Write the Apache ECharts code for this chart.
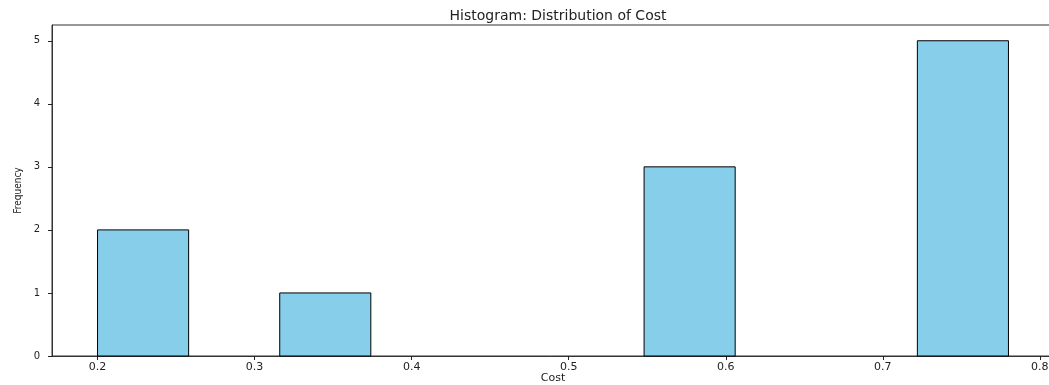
<!DOCTYPE html>
<html>
<head>
<meta charset="utf-8">
<script src="https://cdn.jsdelivr.net/npm/echarts@6/dist/echarts.min.js"></script>
<style>
  html, body { margin: 0; padding: 0; background: #fff; }
  #chart { width: 1049px; height: 385px; }
</style>
</head>
<body>
<div id="chart"></div>
<script>
// Histogram bin edges (10 bins between min and max of Cost)
const binEdges = [0.2, 0.258, 0.316, 0.374, 0.432, 0.49, 0.548, 0.606, 0.664, 0.722, 0.78];
// Frequency in each bin
const counts = [2, 0, 1, 0, 0, 0, 3, 0, 0, 5];
// Tick labels
const xTicks = [0.2, 0.3, 0.4, 0.5, 0.6, 0.7, 0.8];
const yTicks = [0, 1, 2, 3, 4, 5];

const barData = [];
for (let i = 0; i < counts.length; i++) {
  if (counts[i] > 0) barData.push([binEdges[i], binEdges[i + 1], counts[i]]);
}

const textColor = '#222';
const font = 'DejaVu Sans';

const chart = echarts.init(document.getElementById('chart'), null, { renderer: 'canvas' });
chart.setOption({
  animation: false,
  backgroundColor: '#fff',
  title: {
    text: 'Histogram: Distribution of Cost',
    left: 553,
    textAlign: 'center',
    top: 4,
    textStyle: { fontFamily: font, fontSize: 14, fontWeight: 'normal', color: textColor }
  },
  grid: {
    left: 52, right: -5, top: 25, bottom: 29,
    outerBoundsMode: 'none',
    containLabel: false,
    show: true, borderColor: '#333', borderWidth: 1, backgroundColor: 'transparent'
  },
  xAxis: {
    type: 'value',
    min: 0.171, max: 0.809,
    name: 'Cost',
    nameLocation: 'middle',
    nameGap: 17,
    nameMoveOverlap: false,
    nameTextStyle: { fontFamily: font, fontSize: 11, color: textColor },
    axisLine: { show: true, onZero: false, lineStyle: { color: '#333', width: 1 } },
    axisTick: { show: true, length: 4, customValues: xTicks, lineStyle: { color: '#222' } },
    axisLabel: {
      customValues: xTicks, margin: 6,
      fontFamily: font, fontSize: 11, color: textColor,
      formatter: v => v.toFixed(1)
    },
    splitLine: { show: false }
  },
  yAxis: {
    type: 'value',
    min: 0, max: 5.25,
    name: 'Frequency',
    nameLocation: 'middle',
    nameRotate: 90,
    nameGap: 29,
    nameMoveOverlap: false,
    nameTextStyle: { fontFamily: 'DejaVu Sans Condensed', fontSize: 10, color: textColor },
    axisLine: { show: true, lineStyle: { color: '#333', width: 1 } },
    axisTick: { show: true, length: 4, customValues: yTicks, lineStyle: { color: '#222' } },
    axisLabel: {
      customValues: yTicks, margin: 12,
      fontFamily: font, fontSize: 10, color: textColor
    },
    splitLine: { show: false }
  },
  series: [{
    type: 'custom',
    data: barData,
    encode: { x: [0, 1], y: 2 },
    renderItem: function (params, api) {
      const x0 = api.value(0), x1 = api.value(1), c = api.value(2);
      const pTop = api.coord([x0, c]);
      const pBot = api.coord([x1, 0]);
      return {
        type: 'rect',
        shape: { x: pTop[0], y: pTop[1], width: pBot[0] - pTop[0], height: pBot[1] - pTop[1] },
        style: { fill: '#87CEEB', stroke: '#000', lineWidth: 1 }
      };
    }
  }]
});
</script>
</body>
</html>
